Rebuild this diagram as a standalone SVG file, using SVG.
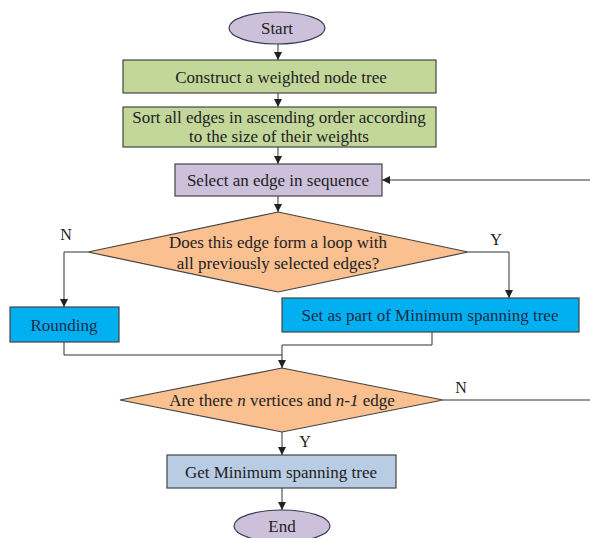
<svg xmlns="http://www.w3.org/2000/svg" width="590" height="538" viewBox="0 0 590 538">
<defs>
<marker id="ah" markerUnits="userSpaceOnUse" markerWidth="8" markerHeight="8" refX="8" refY="4" orient="auto">
<path d="M0,0 L8,4 L0,8 z" fill="#222"/>
</marker>
<style>
text{font-family:"Liberation Serif","Times New Roman",serif;font-size:17px;fill:#222;text-anchor:middle}
.oval{fill:#ccc0da;stroke:#3a3a50;stroke-width:1.2}
.green{fill:#c4d79b;stroke:#444;stroke-width:1.2}
.purple{fill:#ccc0da;stroke:#444;stroke-width:1.2}
.dia{fill:#fac090;stroke:#444;stroke-width:1.2}
.blue{fill:#00b0f0;stroke:#444;stroke-width:1.2}
.grey{fill:#b8cce4;stroke:#444;stroke-width:1.2}
.navy{fill:#1f2a4a}
.lbl{font-size:16px}
#connectors path{fill:none;stroke:#333;stroke-width:1}
</style>
</defs>
<g id="connectors">
<path d="M278,44 V60" marker-end="url(#ah)"/>
<path d="M278,93 V107" marker-end="url(#ah)"/>
<path d="M278,147 V164" marker-end="url(#ah)"/>
<path d="M278,196 V212" marker-end="url(#ah)"/>
<path d="M88,252 H64 V307" marker-end="url(#ah)"/>
<path d="M468,252 H509 V298" marker-end="url(#ah)"/>
<path d="M64,342 V355 H282"/>
<path d="M432,332 V345 H282 V368" marker-end="url(#ah)"/>
<path d="M443,400 H590"/>
<path d="M590,180 H382" marker-end="url(#ah)"/>
<path d="M282,432 V455" marker-end="url(#ah)"/>
<path d="M282,488 V510" marker-end="url(#ah)"/>
<text class="lbl" x="66" y="240">N</text>
<text class="lbl" x="496" y="245">Y</text>
<text class="lbl" x="461" y="393">N</text>
<text class="lbl" x="305" y="447">Y</text>
</g>
<g id="start">
<ellipse class="oval" cx="277" cy="28" rx="48" ry="16"/>
<text x="277" y="34">Start</text>
</g>
<g id="construct">
<rect class="green" x="123" y="60" width="313" height="33"/>
<text x="281" y="83">Construct a weighted node tree</text>
</g>
<g id="sort">
<rect class="green" x="123" y="107" width="313" height="40"/>
<text x="279" y="123">Sort all edges in ascending order according</text>
<text x="279" y="142">to the size of their weights</text>
</g>
<g id="select">
<rect class="purple" x="175" y="164" width="207" height="32"/>
<text x="278" y="186">Select an edge in sequence</text>
</g>
<g id="loopcheck">
<polygon class="dia" points="278,212 468,252 278,292 88,252"/>
<text x="278" y="248">Does this edge form a loop with</text>
<text x="278" y="269">all previously selected edges?</text>
</g>
<g id="rounding">
<rect class="blue" x="10" y="307" width="109" height="35"/>
<text class="navy" x="64" y="331">Rounding</text>
</g>
<g id="setpart">
<rect class="blue" x="282" y="298" width="297" height="34"/>
<text class="navy" x="430" y="321">Set as part of Minimum spanning tree</text>
</g>
<g id="countcheck">
<polygon class="dia" points="282,368 443,400 282,432 120,400"/>
<text x="282" y="406">Are there <tspan font-style="italic">n</tspan> vertices and <tspan font-style="italic">n-1</tspan> edge</text>
</g>
<g id="getmst">
<rect class="grey" x="167" y="455" width="229" height="33"/>
<text x="281" y="478">Get Minimum spanning tree</text>
</g>
<g id="end">
<ellipse class="oval" cx="282" cy="526" rx="48" ry="16"/>
<text x="282" y="532">End</text>
</g>
</svg>
